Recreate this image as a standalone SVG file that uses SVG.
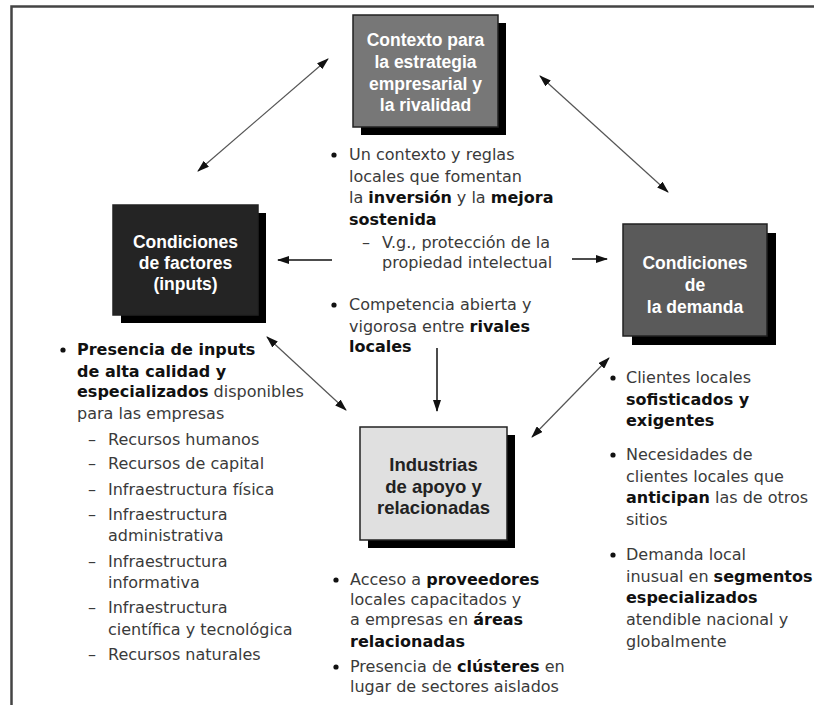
<svg xmlns="http://www.w3.org/2000/svg" width="814" height="705" viewBox="0 0 814 705">
<style>
  .frame{fill:none;stroke:#444;stroke-width:2.5}
  .shadow{fill:#000}
  .box{stroke:#222;stroke-width:1.5}
  .bt{font-family:"Liberation Sans",Arial,sans-serif;font-weight:bold;font-size:17.5px;text-anchor:middle;fill:#fff}
  .bt2{font-family:"Liberation Sans",Arial,sans-serif;font-weight:bold;font-size:18.5px;text-anchor:middle;fill:#222}
  .t{font-family:"DejaVu Sans","Noto Sans",sans-serif;font-size:16px;fill:#3a3a3a}
  .b{font-weight:bold;fill:#111}
  .bul{fill:#111}
  .conn{stroke:#555;stroke-width:1.2;fill:none}
  .conn2{stroke:#111;stroke-width:1.5;fill:none}
</style>
<defs>
  <marker id="ah" viewBox="0 0 12 8" refX="11" refY="4" markerWidth="12" markerHeight="8" markerUnits="userSpaceOnUse" orient="auto-start-reverse">
    <path d="M0,0 L12,4 L0,8 Z" fill="#111"/>
  </marker>
</defs>
<rect width="814" height="705" fill="#fff"/>
<path class="frame" d="M11.5,705 L11.5,6.5 L814,6.5"/>

<g id="node-contexto">
  <rect class="shadow" x="361" y="23" width="145" height="112"/>
  <rect class="box" x="353" y="15" width="145" height="112" fill="#777"/>
  <text class="bt" x="425.5" y="46">Contexto para</text>
  <text class="bt" x="425.5" y="68">la estrategia</text>
  <text class="bt" x="425.5" y="90">empresarial y</text>
  <text class="bt" x="425.5" y="111">la rivalidad</text>
</g>

<g id="node-factores">
  <rect class="shadow" x="121" y="213" width="145" height="110"/>
  <rect class="box" x="113" y="205" width="145" height="110" fill="#242424"/>
  <text class="bt" x="185.5" y="248">Condiciones</text>
  <text class="bt" x="185.5" y="269">de factores</text>
  <text class="bt" x="185.5" y="290">(inputs)</text>
</g>

<g id="node-demanda">
  <rect class="shadow" x="632" y="233" width="144" height="112"/>
  <rect class="box" x="623" y="224" width="144" height="112" fill="#5a5a5a"/>
  <text class="bt" x="695" y="269">Condiciones</text>
  <text class="bt" x="695" y="291">de</text>
  <text class="bt" x="695" y="313">la demanda</text>
</g>

<g id="node-industrias">
  <rect class="shadow" x="368" y="435" width="147" height="113"/>
  <rect class="box" x="360" y="427" width="147" height="113" fill="#e0e0e0"/>
  <text class="bt2" x="433.5" y="471">Industrias</text>
  <text class="bt2" x="433.5" y="493">de apoyo y</text>
  <text class="bt2" x="433.5" y="514">relacionadas</text>
</g>

<g id="connectors">
  <line class="conn" x1="198" y1="171" x2="328" y2="59" marker-start="url(#ah)" marker-end="url(#ah)"/>
  <line class="conn" x1="540" y1="76" x2="668" y2="192" marker-start="url(#ah)" marker-end="url(#ah)"/>
  <line class="conn" x1="267" y1="337" x2="346" y2="410" marker-start="url(#ah)" marker-end="url(#ah)"/>
  <line class="conn" x1="532" y1="437" x2="609" y2="358" marker-start="url(#ah)" marker-end="url(#ah)"/>
  <line class="conn2" x1="332" y1="260" x2="278" y2="260" marker-end="url(#ah)"/>
  <line class="conn2" x1="572" y1="259" x2="607" y2="259" marker-end="url(#ah)"/>
  <line class="conn2" x1="437" y1="348" x2="437" y2="411" marker-end="url(#ah)"/>
</g>

<g id="text-centro" class="t">
  <circle class="bul" cx="334" cy="155" r="2.6"/>
  <text x="349" y="160">Un contexto y reglas</text>
  <text x="349" y="182">locales que fomentan</text>
  <text x="349" y="203">la <tspan class="b">inversión</tspan> y la <tspan class="b">mejora</tspan></text>
  <text x="349" y="225" class="b">sostenida</text>
  <text x="362" y="248">–</text>
  <text x="382" y="248">V.g., protección de la</text>
  <text x="382" y="268">propiedad intelectual</text>
  <circle class="bul" cx="334" cy="305" r="2.6"/>
  <text x="349" y="310">Competencia abierta y</text>
  <text x="349" y="332">vigorosa entre <tspan class="b">rivales</tspan></text>
  <text x="349" y="352" class="b">locales</text>
</g>

<g id="text-factores" class="t">
  <circle class="bul" cx="63" cy="350" r="2.6"/>
  <text x="77" y="355" class="b">Presencia de inputs</text>
  <text x="77" y="377" class="b">de alta calidad y</text>
  <text x="77" y="397"><tspan class="b">especializados</tspan> disponibles</text>
  <text x="77" y="419">para las empresas</text>
  <text x="88" y="445">–</text><text x="108" y="445">Recursos humanos</text>
  <text x="88" y="469">–</text><text x="108" y="469">Recursos de capital</text>
  <text x="88" y="495">–</text><text x="108" y="495">Infraestructura física</text>
  <text x="88" y="520">–</text><text x="108" y="520">Infraestructura</text>
  <text x="108" y="541">administrativa</text>
  <text x="88" y="567">–</text><text x="108" y="567">Infraestructura</text>
  <text x="108" y="588">informativa</text>
  <text x="88" y="613">–</text><text x="108" y="613">Infraestructura</text>
  <text x="108" y="635">científica y tecnológica</text>
  <text x="88" y="660">–</text><text x="108" y="660">Recursos naturales</text>
</g>

<g id="text-demanda" class="t">
  <circle class="bul" cx="613" cy="378" r="2.6"/>
  <text x="626" y="383">Clientes locales</text>
  <text x="626" y="405" class="b">sofisticados y</text>
  <text x="626" y="426" class="b">exigentes</text>
  <circle class="bul" cx="613" cy="455" r="2.6"/>
  <text x="626" y="460">Necesidades de</text>
  <text x="626" y="482">clientes locales que</text>
  <text x="626" y="503"><tspan class="b">anticipan</tspan> las de otros</text>
  <text x="626" y="525">sitios</text>
  <circle class="bul" cx="613" cy="555" r="2.6"/>
  <text x="626" y="560">Demanda local</text>
  <text x="626" y="582">inusual en <tspan class="b">segmentos</tspan></text>
  <text x="626" y="603" class="b">especializados</text>
  <text x="626" y="625">atendible nacional y</text>
  <text x="626" y="647">globalmente</text>
</g>

<g id="text-industrias" class="t">
  <circle class="bul" cx="336" cy="580" r="2.6"/>
  <text x="350" y="585">Acceso a <tspan class="b">proveedores</tspan></text>
  <text x="350" y="605">locales capacitados y</text>
  <text x="350" y="625">a empresas en <tspan class="b">áreas</tspan></text>
  <text x="350" y="647" class="b">relacionadas</text>
  <circle class="bul" cx="336" cy="667" r="2.6"/>
  <text x="350" y="672">Presencia de <tspan class="b">clústeres</tspan> en</text>
  <text x="350" y="692">lugar de sectores aislados</text>
</g>
</svg>
